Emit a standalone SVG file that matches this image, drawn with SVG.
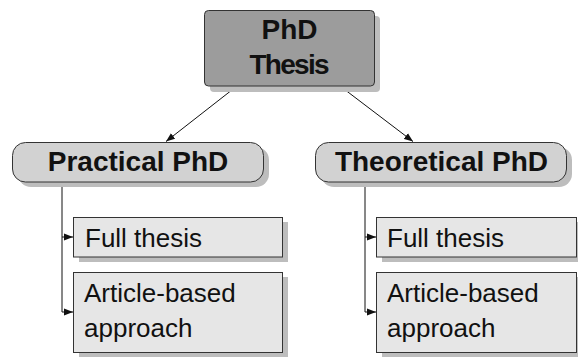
<svg xmlns="http://www.w3.org/2000/svg" width="578" height="357" viewBox="0 0 578 357">
<style>
.shadow{fill:#bdbdbd;stroke:none}
.root{fill:#9c9c9c;stroke:#333;stroke-width:1}
.branch{fill:#d2d2d2;stroke:#333;stroke-width:1}
.leaf{fill:#e6e6e6;stroke:#333;stroke-width:1}
.bold{font-family:"Liberation Sans",Arial,sans-serif;font-weight:bold;font-size:28px;fill:#111;text-anchor:middle}
.norm{font-family:"Liberation Sans",Arial,sans-serif;font-size:26px;fill:#111}
.conn{stroke:#111;stroke-width:1;fill:none}
</style>
<defs>
<marker id="arr" markerUnits="userSpaceOnUse" markerWidth="10" markerHeight="8" refX="9" refY="4" orient="auto">
<path d="M0,0.5 L9,4 L0,7.5 z" fill="#111"/>
</marker>
</defs>
<rect width="578" height="357" fill="#fff"/>

<g id="connectors">
<line class="conn" x1="237" y1="86" x2="166" y2="141.5" marker-end="url(#arr)"/>
<line class="conn" x1="340" y1="86" x2="413" y2="141.5" marker-end="url(#arr)"/>
<path class="conn" d="M62,182 V312"/>
<line class="conn" x1="62" y1="237" x2="73" y2="237" marker-end="url(#arr)"/>
<line class="conn" x1="62" y1="312" x2="73" y2="312" marker-end="url(#arr)"/>
<path class="conn" d="M365,182 V312"/>
<line class="conn" x1="365" y1="237" x2="376" y2="237" marker-end="url(#arr)"/>
<line class="conn" x1="365" y1="312" x2="376" y2="312" marker-end="url(#arr)"/>
</g>

<g id="phd-thesis">
<rect class="shadow" x="210" y="16" width="170" height="76" rx="4"/>
<rect class="root" x="204.5" y="10.5" width="170" height="75.5" rx="4"/>
<text class="bold" x="289.5" y="39">PhD</text>
<text class="bold" x="289.5" y="74" textLength="80">Thesis</text>
</g>

<g id="practical-phd">
<rect class="shadow" x="18" y="147" width="251" height="40" rx="13"/>
<rect class="branch" x="12.5" y="142.5" width="251" height="39.5" rx="13"/>
<text class="bold" x="138" y="171">Practical PhD</text>
</g>

<g id="theoretical-phd">
<rect class="shadow" x="321" y="147" width="251" height="40" rx="13"/>
<rect class="branch" x="315.5" y="142.5" width="251" height="39.5" rx="13"/>
<text class="bold" x="441.5" y="171">Theoretical PhD</text>
</g>

<g id="practical-full-thesis">
<rect class="shadow" x="79" y="222" width="209" height="40"/>
<rect class="leaf" x="73.5" y="217.5" width="209" height="39.5"/>
<text class="norm" x="85" y="247">Full thesis</text>
</g>

<g id="practical-article-based">
<rect class="shadow" x="79" y="277" width="209" height="80"/>
<rect class="leaf" x="73.5" y="272.5" width="209" height="80"/>
<text class="norm" x="84" y="302">Article-based</text>
<text class="norm" x="84" y="337">approach</text>
</g>

<g id="theoretical-full-thesis">
<rect class="shadow" x="382" y="222" width="209" height="40"/>
<rect class="leaf" x="376.5" y="217.5" width="200" height="39.5"/>
<text class="norm" x="387" y="247">Full thesis</text>
</g>

<g id="theoretical-article-based">
<rect class="shadow" x="382" y="277" width="209" height="80"/>
<rect class="leaf" x="376.5" y="272.5" width="200" height="80"/>
<text class="norm" x="387" y="302">Article-based</text>
<text class="norm" x="387" y="337">approach</text>
</g>
</svg>
